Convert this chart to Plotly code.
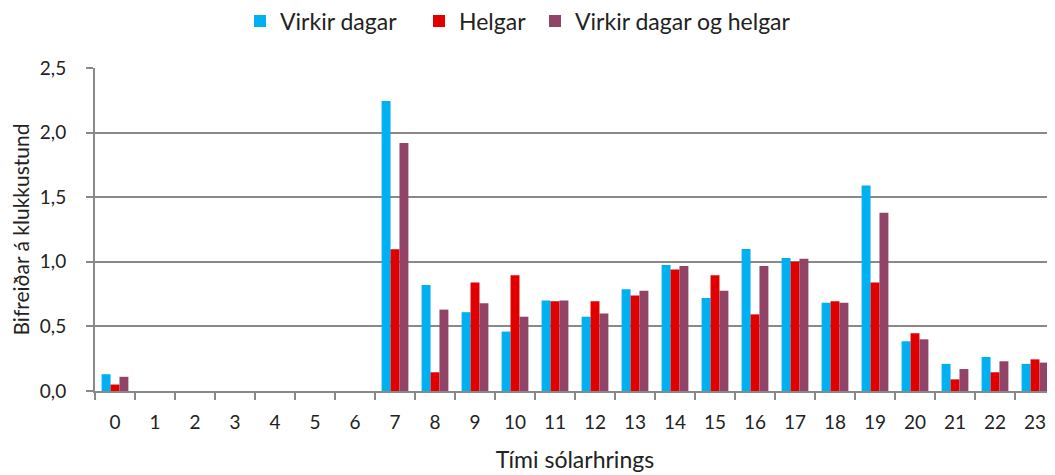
import plotly.graph_objects as go

hours = [str(h) for h in range(24)]
virkir = [0.13, 0, 0, 0, 0, 0, 0, 2.245, 0.82, 0.61, 0.46, 0.70, 0.575, 0.787,
          0.975, 0.72, 1.10, 1.03, 0.683, 1.59, 0.385, 0.21, 0.263, 0.21]
helgar = [0.05, 0, 0, 0, 0, 0, 0, 1.097, 0.145, 0.84, 0.895, 0.695, 0.694, 0.74,
          0.94, 0.895, 0.593, 1.0, 0.694, 0.84, 0.447, 0.09, 0.145, 0.245]
baedi = [0.11, 0, 0, 0, 0, 0, 0, 1.92, 0.63, 0.68, 0.575, 0.70, 0.60, 0.776,
         0.967, 0.776, 0.967, 1.024, 0.683, 1.38, 0.40, 0.17, 0.23, 0.22]

names = ["Virkir dagar", "Helgar", "Virkir dagar og helgar"]
colors = ["#00B0F0", "#E00000", "#904468"]
values = [virkir, helgar, baedi]
legend_ids = ["legend", "legend2", "legend3"]
legend_left_px = [232, 411, 527]   # left edge of each legend entry (figure px)

FONT = "Lato, 'Open Sans', sans-serif"
GRAY = "#898989"
FIG_W, FIG_H = 1047, 467

fig = go.Figure()
for name, vals, col, lid in zip(names, values, colors, legend_ids):
    fig.add_trace(go.Bar(x=hours, y=vals, name=name, marker_color=col,
                         marker_line_width=0, legend=lid))

legend_common = dict(orientation="h", xref="container", yref="container",
                     xanchor="left", yanchor="middle", y=1 - 13 / FIG_H,
                     font=dict(size=23), itemwidth=30, bgcolor="rgba(0,0,0,0)")

# page body has an 8px default margin, so the figure is sized to fit inside it
fig.update_layout(
    width=FIG_W, height=FIG_H,
    margin=dict(l=87, r=0, t=60, b=84, autoexpand=False),
    paper_bgcolor="white", plot_bgcolor="white",
    barmode="group", bargap=0.33, bargroupgap=0,
    separators=", ",
    font=dict(family=FONT, size=19, color="#222222"),
    showlegend=True,
    legend=dict(legend_common, x=legend_left_px[0] / FIG_W),
    legend2=dict(legend_common, x=legend_left_px[1] / FIG_W),
    legend3=dict(legend_common, x=legend_left_px[2] / FIG_W),
)

fig.update_xaxes(
    type="category", tickson="boundaries", ticks="outside", ticklen=7,
    tickcolor=GRAY, tickwidth=2, showline=True, linecolor=GRAY,
    linewidth=2, showgrid=False, automargin=False,
    title=dict(text="Tími sólarhrings", font=dict(size=23), standoff=20),
    tickfont=dict(size=19), ticklabelstandoff=13,
)
fig.update_yaxes(
    range=[0, 2.5], dtick=0.5, tickformat=".1f", ticks="outside", ticklen=7,
    tickcolor=GRAY, tickwidth=2, showline=True, linecolor=GRAY,
    linewidth=2, showgrid=True, gridcolor=GRAY, gridwidth=2,
    zeroline=False, automargin=False,
    title=dict(text="Bifreiðar á klukkustund", font=dict(size=21), standoff=14),
    tickfont=dict(size=19), ticklabelstandoff=16,
)

fig.write_html("out.html")
